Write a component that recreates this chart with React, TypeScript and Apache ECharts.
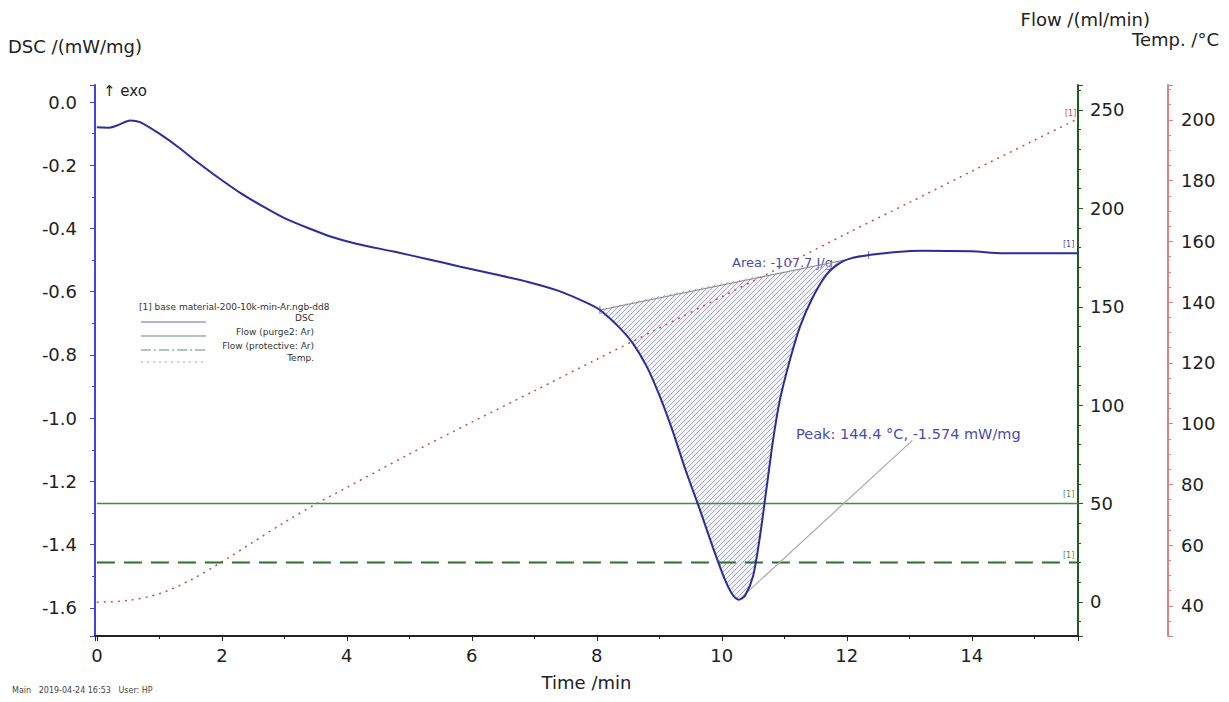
import React, { useEffect, useRef } from 'react';
import * as echarts from 'echarts';

// ---------- data ----------
const dscTime = [0, 0.2, 0.35, 0.53, 0.7, 1.0, 1.3, 1.6, 1.9, 2.3, 2.7, 3.0, 3.4, 3.75, 4.15, 4.75, 5.3, 5.8, 6.35, 6.9, 7.4, 7.85, 8.05, 8.37, 8.58, 8.8, 9.01, 9.22, 9.42, 9.65, 9.86, 10.05, 10.18, 10.27, 10.37, 10.5, 10.61, 10.72, 10.82, 10.93, 11.09, 11.25, 11.46, 11.68, 11.9, 12.1, 12.35, 12.8, 13.2, 14.0, 14.5, 15.0, 15.7];
const dscValue = [-0.080, -0.081, -0.072, -0.058, -0.064, -0.100, -0.142, -0.189, -0.233, -0.288, -0.335, -0.367, -0.400, -0.426, -0.448, -0.473, -0.497, -0.520, -0.544, -0.569, -0.598, -0.636, -0.658, -0.715, -0.764, -0.837, -0.932, -1.044, -1.164, -1.290, -1.410, -1.511, -1.561, -1.574, -1.562, -1.500, -1.375, -1.216, -1.070, -0.942, -0.816, -0.711, -0.616, -0.545, -0.508, -0.492, -0.484, -0.474, -0.470, -0.472, -0.478, -0.478, -0.478];

const tempTime = [0, 0.5, 1, 1.5, 2, 2.5, 3, 3.5, 4, 4.5, 5, 6, 7, 8, 9, 10, 11, 12, 13, 14, 15, 15.7];
const tempValue = [41.2, 41.8, 44.0, 48.5, 54.5, 61.0, 67.5, 73.5, 79.0, 84.5, 90.0, 100.5, 110.8, 121.2, 131.5, 141.8, 152.1, 162.6, 172.8, 183.1, 193.3, 200.4];

const flowTime = [0, 15.7];
const purgeFlow = [50, 50];
const protectiveFlow = [20, 20];

const baselineTime = [8.05, 12.35];
const baselineValue = [-0.658, -0.484];

const peakLeaderTime = [10.3, 13.05];
const peakLeaderValue = [-1.57, -1.07];

const areaLabel = 'Area: -107.7 J/g';
const peakLabel = 'Peak: 144.4 °C, -1.574 mW/mg';

const legendTitle = '[1] base material-200-10k-min-Ar.ngb-dd8';
const legendNames = ['DSC', 'Flow (purge2: Ar)', 'Flow (protective: Ar)', 'Temp.'];

const FONT = '"DejaVu Sans", "Liberation Sans", sans-serif';
const BLUE = '#2c2c9c';
const BLUE_AXIS = '#4444d8';
const GREEN = '#3f8f3f';
const GREEN_AXIS = '#235a23';
const RED = '#c0504d';
const RED_AXIS = '#d88484';

const isMult = (v: number, step: number) => Math.abs(v / step - Math.round(v / step)) < 1e-6;

export default function App() {
  const ref = useRef<HTMLDivElement>(null);

  useEffect(() => {
    if (!ref.current) return;
    const chart = echarts.init(ref.current, undefined, { renderer: 'svg' });

    // hatch pattern
    const c = document.createElement('canvas');
    c.width = 5;
    c.height = 5;
    const ctx = c.getContext('2d');
    if (ctx) {
      ctx.fillStyle = 'rgba(215,215,245,0.3)';
      ctx.fillRect(0, 0, 5, 5);
      ctx.strokeStyle = '#9696a6';
      ctx.lineWidth = 0.8;
      ctx.beginPath();
      ctx.moveTo(0, 5); ctx.lineTo(5, 0);
      ctx.moveTo(-2.5, 2.5); ctx.lineTo(2.5, -2.5);
      ctx.moveTo(2.5, 7.5); ctx.lineTo(7.5, 2.5);
      ctx.stroke();
    }
    const hatch: any = { image: c, repeat: 'repeat', imageWidth: 5, imageHeight: 5 };

    const dscData = dscTime.map((t, i) => [t, dscValue[i]]);
    const areaPoints: number[][] = [[baselineTime[0], baselineValue[0]]];
    dscData.forEach((p) => {
      if (p[0] > baselineTime[0] && p[0] < baselineTime[1]) areaPoints.push(p);
    });
    areaPoints.push([baselineTime[1], baselineValue[1]]);

    const legendY = [322, 336, 350, 362];
    const legendStyles: any[] = [
      { stroke: '#6a6a9a', lineWidth: 1 },
      { stroke: '#6a8a6a', lineWidth: 1 },
      { stroke: '#6a8a6a', lineWidth: 1, lineDash: [10, 3, 2, 3] },
      { stroke: '#d09090', lineWidth: 1, lineDash: [2, 4] },
    ];

    const graphic: any[] = [
      { type: 'text', left: 8, top: 37, style: { text: 'DSC /(mW/mg)', font: `18px ${FONT}`, fill: '#222' } },
      { type: 'text', right: 1229 - 1150, top: 10, style: { text: 'Flow /(ml/min)', font: `18px ${FONT}`, fill: '#222' } },
      { type: 'text', right: 1229 - 1219, top: 30, style: { text: 'Temp. /°C', font: `18px ${FONT}`, fill: '#222' } },
      { type: 'text', left: 103, top: 83, style: { text: '↑ exo', font: `15px ${FONT}`, fill: '#222' } },
      { type: 'text', left: 12, top: 686, style: { text: 'Main   2019-04-24 16:53   User: HP', font: `8px ${FONT}`, fill: '#444' } },
      { type: 'text', left: 732, top: 256, style: { text: areaLabel, font: `13px ${FONT}`, fill: '#4a4ab0' } },
      { type: 'text', left: 796, top: 426, style: { text: peakLabel, font: `14.5px ${FONT}`, fill: '#4a4ab0' } },
      { type: 'text', left: 1063, top: 240, style: { text: '[1]', font: `8px ${FONT}`, fill: '#4a4ab0' } },
      { type: 'text', left: 1063, top: 490, style: { text: '[1]', font: `8px ${FONT}`, fill: GREEN } },
      { type: 'text', left: 1063, top: 551, style: { text: '[1]', font: `8px ${FONT}`, fill: GREEN } },
      { type: 'text', left: 1065, top: 109, style: { text: '[1]', font: `8px ${FONT}`, fill: RED } },
      { type: 'text', left: 139, top: 302, style: { text: legendTitle, font: `9px ${FONT}`, fill: '#333' } },
    ];
    legendNames.forEach((n, i) => {
      graphic.push({ type: 'line', shape: { x1: 141, y1: legendY[i], x2: 206, y2: legendY[i] }, style: legendStyles[i] });
      graphic.push({ type: 'text', x: 314, y: legendY[i] - 4, style: { text: n, font: `9px ${FONT}`, fill: '#333', align: 'right', verticalAlign: 'middle' } });
    });

    const baseTick = { show: true, length: 5 };

    chart.setOption({
      animation: false,
      backgroundColor: '#fff',
      grid: { left: 95, right: 151, top: 85, bottom: 66, containLabel: false },
      graphic,
      xAxis: {
        type: 'value',
        min: -0.03,
        max: 15.7,
        splitNumber: 8,
        minInterval: 2,
        maxInterval: 2,
        axisLine: { onZero: false, lineStyle: { color: '#222', width: 2 } },
        axisTick: { ...baseTick, lineStyle: { color: '#222' } },
        minorTick: { show: true, splitNumber: 2, length: 3, lineStyle: { color: '#222' } },
        splitLine: { show: false },
        axisLabel: {
          fontSize: 18, fontFamily: FONT, color: '#222', margin: 10,
          formatter: (v: number) => (isMult(v, 2) ? String(Math.round(v)) : ''),
        },
        name: 'Time /min',
        nameLocation: 'middle',
        nameGap: 37,
        nameTextStyle: { fontSize: 18, fontFamily: FONT, color: '#222' },
      },
      yAxis: [
        {
          type: 'value',
          position: 'left',
          min: -1.689,
          max: 0.054,
          splitNumber: 9,
          minInterval: 0.2,
          maxInterval: 0.2,
          axisLine: { show: true, onZero: false, lineStyle: { color: BLUE_AXIS, width: 2 } },
          axisTick: { ...baseTick, lineStyle: { color: BLUE_AXIS } },
          minorTick: { show: true, splitNumber: 2, length: 3, lineStyle: { color: BLUE_AXIS } },
          splitLine: { show: false },
          axisLabel: {
            fontSize: 18, fontFamily: FONT, color: '#222', margin: 18,
            formatter: (v: number) => (isMult(v, 0.2) ? v.toFixed(1) : ''),
          },
        },
        {
          type: 'value',
          position: 'right',
          min: -17.3,
          max: 262.7,
          splitNumber: 6,
          minInterval: 50,
          maxInterval: 50,
          axisLine: { show: true, onZero: false, lineStyle: { color: GREEN_AXIS, width: 2 } },
          axisTick: { ...baseTick, lineStyle: { color: GREEN_AXIS } },
          minorTick: { show: true, splitNumber: 5, length: 3, lineStyle: { color: GREEN_AXIS } },
          splitLine: { show: false },
          axisLabel: {
            fontSize: 18, fontFamily: FONT, color: '#222', margin: 12,
            formatter: (v: number) => (isMult(v, 50) ? String(Math.round(v)) : ''),
          },
        },
        {
          type: 'value',
          position: 'right',
          offset: 90,
          min: 30.1,
          max: 211.5,
          splitNumber: 9,
          minInterval: 20,
          maxInterval: 20,
          axisLine: { show: true, onZero: false, lineStyle: { color: RED_AXIS, width: 2 } },
          axisTick: { ...baseTick, lineStyle: { color: RED_AXIS } },
          minorTick: { show: true, splitNumber: 4, length: 3, lineStyle: { color: RED_AXIS } },
          splitLine: { show: false },
          axisLabel: {
            fontSize: 18, fontFamily: FONT, color: '#222', margin: 13,
            formatter: (v: number) => (isMult(v, 20) ? String(Math.round(v)) : ''),
          },
        },
      ],
      series: [
        {
          type: 'custom',
          xAxisIndex: 0,
          yAxisIndex: 0,
          silent: true,
          z: 1,
          data: [[baselineTime[0], baselineValue[0]]],
          renderItem: (_params: any, api: any) => ({
            type: 'polygon',
            shape: { points: areaPoints.map((p) => api.coord(p)), smooth: 0.2 },
            style: { fill: hatch, stroke: 'none' },
          }),
        },
        {
          name: 'Temp.',
          type: 'line',
          yAxisIndex: 2,
          data: tempTime.map((t, i) => [t, tempValue[i]]),
          smooth: 0.3,
          showSymbol: false,
          lineStyle: { color: RED, width: 1.5, type: [2, 5] },
          z: 2,
        },
        {
          name: 'Flow (purge2: Ar)',
          type: 'line',
          yAxisIndex: 1,
          data: flowTime.map((t, i) => [t, purgeFlow[i]]),
          showSymbol: false,
          lineStyle: { color: GREEN, width: 1.6 },
          z: 2,
        },
        {
          name: 'Flow (protective: Ar)',
          type: 'line',
          yAxisIndex: 1,
          data: flowTime.map((t, i) => [t, protectiveFlow[i]]),
          showSymbol: false,
          lineStyle: { color: '#2e6e2e', width: 2, type: [18, 9] },
          z: 2,
        },
        {
          name: 'baseline',
          type: 'line',
          yAxisIndex: 0,
          data: baselineTime.map((t, i) => [t, baselineValue[i]]),
          symbol: 'rect',
          symbolSize: [1, 8],
          showSymbol: true,
          itemStyle: { color: '#777' },
          lineStyle: { color: '#888', width: 1 },
          z: 3,
        },
        {
          name: 'peakLeader',
          type: 'line',
          yAxisIndex: 0,
          data: peakLeaderTime.map((t, i) => [t, peakLeaderValue[i]]),
          showSymbol: false,
          lineStyle: { color: '#aaa', width: 1.2 },
          z: 3,
        },
        {
          name: 'DSC',
          type: 'line',
          yAxisIndex: 0,
          data: dscData,
          smooth: 0.25,
          showSymbol: false,
          lineStyle: { color: BLUE, width: 2 },
          z: 4,
        },
      ],
    });

    return () => chart.dispose();
  }, []);

  return <div ref={ref} style={{ position: 'fixed', left: 0, top: 0, width: 1229, height: 702, background: '#fff' }} />;
}
